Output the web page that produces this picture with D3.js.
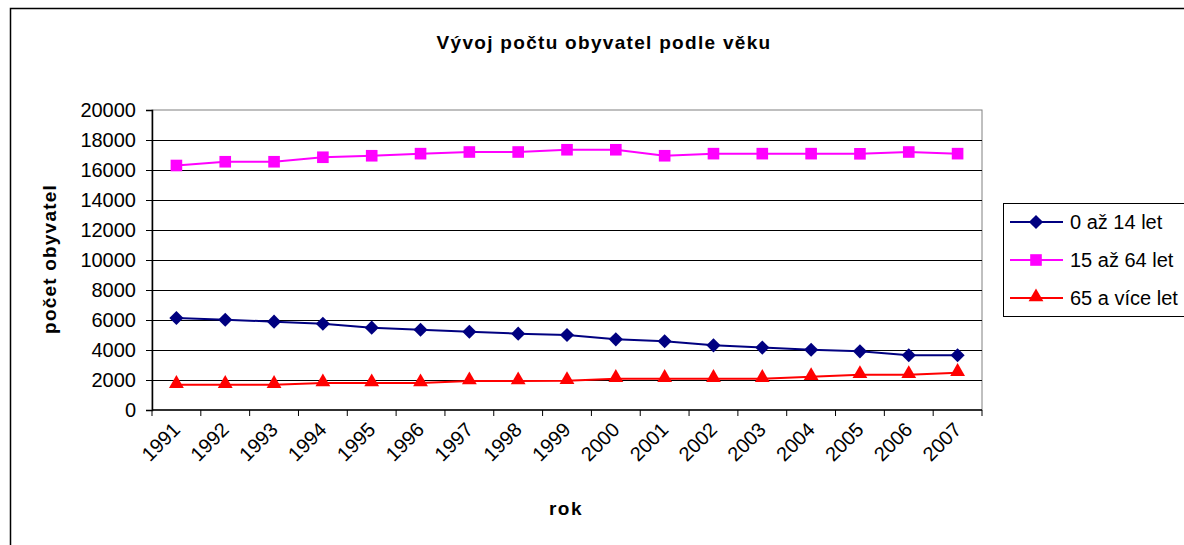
<!DOCTYPE html>
<html>
<head>
<meta charset="utf-8">
<script src="https://cdn.jsdelivr.net/npm/d3@7"></script>
<style>
  body { margin: 0; background: #fff; }
  svg { font-family: Arial, "Liberation Sans", sans-serif; }
</style>
</head>
<body>
<svg id="chart" width="1184" height="545"></svg>
<script>
// data
const years = ["1991","1992","1993","1994","1995","1996","1997","1998","1999",
               "2000","2001","2002","2003","2004","2005","2006","2007"];
const kids   = [6130, 6020, 5890, 5750, 5490, 5350, 5220, 5090, 5000,
                4710, 4580, 4310, 4160, 4020, 3910, 3650, 3650];
const adults = [16300, 16550, 16550, 16850, 16950, 17090, 17200, 17200, 17350,
                17350, 16950, 17090, 17090, 17090, 17080, 17200, 17090];
const seniors = [1690, 1690, 1690, 1800, 1800, 1800, 1930, 1930, 1950,
                 2090, 2090, 2090, 2090, 2220, 2350, 2350, 2490];
const yTicks = [0, 2000, 4000, 6000, 8000, 10000, 12000, 14000, 16000, 18000, 20000];
const seriesNames = ["0 až 14 let", "15 až 64 let", "65 a více let"];

const series = [
  { name: seriesNames[0], values: kids,    color: "#000080", marker: "diamond" },
  { name: seriesNames[1], values: adults,  color: "#FF00FF", marker: "square" },
  { name: seriesNames[2], values: seniors, color: "#FF0000", marker: "triangle" }
];

function markerPath(m) {
  if (m === "triangle") return d3.symbol().type(d3.symbolTriangle).size(95)();
  return d3.symbol().type(d3.symbolSquare).size(m === "diamond" ? 100 : 135)();
}
function markerRot(m) { return m === "diamond" ? " rotate(45)" : (m === "triangle" ? " translate(0,-1)" : ""); }

const svg = d3.select("#chart");
const plot = { left: 152, right: 982, top: 110, bottom: 410 };

// outer chart frame (only top and left edges fall inside the window)
svg.append("rect").attr("x", 10.5).attr("y", 8.5).attr("width", 1200).attr("height", 600)
  .attr("fill", "#fff").attr("stroke", "#000").attr("stroke-width", 1.5);

const x = d3.scaleBand().domain(years).range([plot.left, plot.right]);
const y = d3.scaleLinear().domain([0, 20000]).range([plot.bottom, plot.top]);

// plot area border
svg.append("rect").attr("x", plot.left).attr("y", plot.top)
  .attr("width", plot.right - plot.left).attr("height", plot.bottom - plot.top)
  .attr("fill", "none").attr("stroke", "#808080").attr("stroke-width", 1);

// gridlines
svg.append("g").selectAll("line").data(yTicks.slice(1, -1)).enter().append("line")
  .attr("x1", plot.left).attr("x2", plot.right)
  .attr("y1", d => Math.round(y(d)) + 0.5).attr("y2", d => Math.round(y(d)) + 0.5)
  .attr("stroke", "#000").attr("stroke-width", 1);

// y axis
const yAxis = svg.append("g").attr("transform", `translate(${plot.left},0)`)
  .call(d3.axisLeft(y).tickValues(yTicks).tickSize(6).tickPadding(10).tickFormat(d3.format("d")));
yAxis.select(".domain").attr("stroke", "#000").attr("stroke-width", 1.5);
yAxis.selectAll(".tick line").attr("stroke", "#000");
yAxis.selectAll("text").attr("font-size", 20).attr("fill", "#000")
  .attr("font-family", "Arial, 'Liberation Sans', sans-serif");

// x axis: ticks at category boundaries
const xAxisG = svg.append("g").attr("transform", `translate(0,${plot.bottom})`);
xAxisG.append("line").attr("x1", plot.left).attr("x2", plot.right)
  .attr("stroke", "#000").attr("stroke-width", 1.5);
xAxisG.selectAll(".tk").data(years.concat(["end"])).enter().append("line")
  .attr("x1", (d, i) => plot.left + i * x.bandwidth()).attr("x2", (d, i) => plot.left + i * x.bandwidth())
  .attr("y1", 0).attr("y2", 6).attr("stroke", "#000");
xAxisG.selectAll(".lbl").data(years).enter().append("text")
  .attr("transform", d => `translate(${x(d) + x.bandwidth() / 2},${16}) rotate(-45)`)
  .attr("text-anchor", "end").attr("dy", "0.35em")
  .attr("font-size", 20).attr("fill", "#000")
  .text(d => d);

// lines and markers
const line = d3.line().x((d, i) => x(years[i]) + x.bandwidth() / 2).y(d => y(d));
series.forEach(s => {
  svg.append("path").datum(s.values).attr("d", line)
    .attr("fill", "none").attr("stroke", s.color).attr("stroke-width", 2);
  svg.append("g").selectAll("path").data(s.values).enter().append("path")
    .attr("d", markerPath(s.marker))
    .attr("transform", (d, i) => `translate(${x(years[i]) + x.bandwidth() / 2},${y(d)})` + markerRot(s.marker))
    .attr("fill", s.color);
});

// titles
svg.append("text").attr("x", 604).attr("y", 49).attr("text-anchor", "middle")
  .attr("font-size", 19).attr("font-weight", "bold").attr("letter-spacing", 1.3).text("Vývoj počtu obyvatel podle věku");
svg.append("text").attr("x", 566).attr("y", 515).attr("text-anchor", "middle")
  .attr("font-size", 19).attr("font-weight", "bold").attr("letter-spacing", 1.5).text("rok");
svg.append("text").attr("transform", "translate(56,259) rotate(-90)").attr("text-anchor", "middle")
  .attr("font-size", 19).attr("font-weight", "bold").attr("letter-spacing", 1.2).text("počet obyvatel");

// legend
const lg = svg.append("g");
lg.append("rect").attr("x", 1003.5).attr("y", 203.5).attr("width", 200).attr("height", 113)
  .attr("fill", "#fff").attr("stroke", "#000").attr("stroke-width", 1);
const ly = d3.scalePoint().domain(seriesNames).range([222, 298]);
series.forEach(s => {
  const yy = ly(s.name);
  lg.append("line").attr("x1", 1010).attr("x2", 1063).attr("y1", yy).attr("y2", yy)
    .attr("stroke", s.color).attr("stroke-width", 2);
  lg.append("path").attr("d", markerPath(s.marker))
    .attr("transform", `translate(1036,${yy})` + markerRot(s.marker)).attr("fill", s.color);
  lg.append("text").attr("x", 1070).attr("y", yy).attr("dy", "0.35em")
    .attr("font-size", 20).attr("fill", "#000").text(s.name);
});
</script>
</body>
</html>
